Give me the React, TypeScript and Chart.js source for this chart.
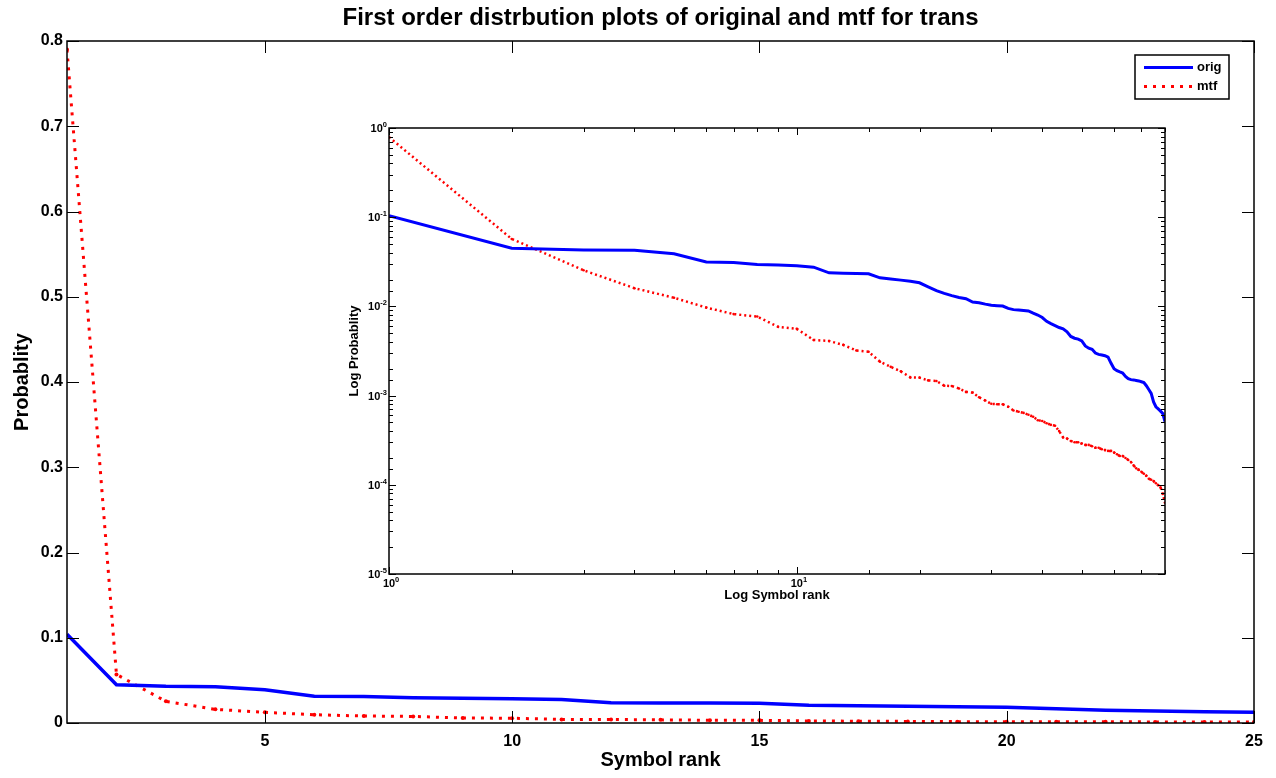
import { useEffect, useRef } from 'react';
import { Chart, registerables } from 'chart.js';

Chart.register(...registerables);

const TITLE = 'First order distrbution plots of original and mtf for trans';
const X_TITLE = 'Symbol rank';
const Y_TITLE = 'Probablity';
const INSET_X_TITLE = 'Log Symbol rank';
const INSET_Y_TITLE = 'Log Probablity';

const symbolRank = [
  1, 2, 3, 4, 5, 6, 7, 8, 9, 10, 11, 12, 13, 14, 15, 16, 17, 18, 19, 20,
  21, 22, 23, 24, 25, 26, 27, 28, 29, 30, 31, 32, 33, 34, 35, 36, 37, 38, 39, 40,
  41, 42, 43, 44, 45, 46, 47, 48, 49, 50, 51, 52, 53, 54, 55, 56, 57, 58, 59, 60,
  61, 62, 63, 64, 65, 66, 67, 68, 69, 70, 71, 72, 73, 74, 75, 76, 77, 78, 79, 80,
];

const origProb = [
  0.104, 0.0448, 0.043, 0.0425, 0.039, 0.0315, 0.031, 0.0295, 0.0291, 0.0285,
  0.0275, 0.0238, 0.0236, 0.0234, 0.0232, 0.0209, 0.0203, 0.0197, 0.0191, 0.0184,
  0.0166, 0.015, 0.014, 0.0132, 0.0126, 0.0122, 0.0112, 0.011, 0.0106, 0.0103,
  0.0102, 0.0101, 0.0095, 0.0092, 0.0091, 0.009, 0.0089, 0.0084, 0.008, 0.0075,
  0.0068, 0.0064, 0.0061, 0.0058, 0.0056, 0.0052, 0.0046, 0.0044, 0.0043, 0.0041,
  0.0036, 0.0034, 0.0033, 0.003, 0.0029, 0.00285, 0.0028, 0.0027, 0.0023, 0.002,
  0.0019, 0.00184, 0.00179, 0.00164, 0.00155, 0.00151, 0.0015, 0.00148, 0.00146, 0.00143,
  0.0014, 0.00129, 0.00117, 0.00106, 0.00085, 0.00075, 0.00071, 0.00067, 0.00063, 0.00051,
];

const mtfProb = [
  0.79, 0.057, 0.0254, 0.016, 0.0125, 0.0097, 0.0082, 0.0077, 0.0059, 0.0056,
  0.0042, 0.0041, 0.0037, 0.0032, 0.0031, 0.0024, 0.0021, 0.00187, 0.0016, 0.00159,
  0.00148, 0.00146, 0.00129, 0.00128, 0.0012, 0.0011, 0.00108, 0.00096, 0.00088, 0.00081,
  0.0008, 0.0008, 0.00075, 0.00068, 0.00066, 0.00064, 0.00061, 0.00058, 0.00053, 0.00052,
  0.00049, 0.00047, 0.00046, 0.0004, 0.00034, 0.00033, 0.00031, 0.0003, 0.0003, 0.00029,
  0.00028, 0.00028, 0.00027, 0.00026, 0.00026, 0.00025, 0.000245, 0.00024, 0.00024, 0.00023,
  0.00022, 0.00021, 0.00021, 0.0002, 0.00019, 0.00018, 0.000165, 0.000153, 0.000147, 0.00014,
  0.000133, 0.000126, 0.000117, 0.000114, 0.00011, 0.000104, 0.000099, 0.000094, 0.000079, 0.000063,
];

const mainXTicks = [5, 10, 15, 20, 25];
const mainYTicks = [0, 0.1, 0.2, 0.3, 0.4, 0.5, 0.6, 0.7, 0.8];
const insetXTickValues = [1, 10];
const insetXTickExponents = ['0', '1'];
const insetYTickValues = [1e-5, 1e-4, 1e-3, 1e-2, 1e-1, 1];
const insetYTickExponents = ['-5', '-4', '-3', '-2', '-1', '0'];
const TICK_BASE = '10';

const FONT = '"Liberation Sans", Arial, Helvetica, sans-serif';
const BLUE = '#0000ff';
const RED = '#ff0000';

const isPow10 = (v: number) => Math.abs(Math.log10(v) - Math.round(Math.log10(v))) < 1e-6;

function framePlugin(major: number, minor: number, isMajor: (v: number) => boolean) {
  return {
    id: 'frameTicks',
    afterDatasetsDraw(chart: any) {
      const { ctx, chartArea: a, scales } = chart;
      const xs = scales.x;
      const ys = scales.y;
      ctx.save();
      ctx.strokeStyle = '#000';
      ctx.lineWidth = 1;
      ctx.setLineDash([]);
      ctx.beginPath();
      for (const t of xs.ticks) {
        const px = Math.round(xs.getPixelForValue(t.value)) + 0.5;
        if (px < a.left - 1 || px > a.right + 1) continue;
        const len = isMajor(t.value) ? major : minor;
        ctx.moveTo(px, a.bottom);
        ctx.lineTo(px, a.bottom - len);
        ctx.moveTo(px, a.top);
        ctx.lineTo(px, a.top + len);
      }
      for (const t of ys.ticks) {
        const py = Math.round(ys.getPixelForValue(t.value)) + 0.5;
        if (py < a.top - 1 || py > a.bottom + 1) continue;
        const len = isMajor(t.value) ? major : minor;
        ctx.moveTo(a.left, py);
        ctx.lineTo(a.left + len, py);
        ctx.moveTo(a.right, py);
        ctx.lineTo(a.right - len, py);
      }
      ctx.stroke();
      ctx.lineWidth = 1.5;
      ctx.strokeRect(a.left, a.top, a.right - a.left, a.bottom - a.top);
      ctx.restore();
    },
  };
}

const powerLabelPlugin = {
  id: 'powerLabels',
  afterDraw(chart: any) {
    const { ctx, chartArea: a, scales } = chart;
    const baseFont = `bold 11px ${FONT}`;
    const expFont = `bold 7.5px ${FONT}`;
    ctx.save();
    ctx.fillStyle = '#000';
    ctx.textBaseline = 'alphabetic';
    // x axis
    insetXTickValues.forEach((v, i) => {
      const px = scales.x.getPixelForValue(v);
      ctx.font = baseFont;
      const bw = ctx.measureText(TICK_BASE).width;
      ctx.textAlign = 'left';
      ctx.fillText(TICK_BASE, px - bw / 2, a.bottom + 13);
      ctx.font = expFont;
      ctx.fillText(insetXTickExponents[i], px + bw / 2, a.bottom + 8);
    });
    // y axis
    insetYTickValues.forEach((v, i) => {
      const py = scales.y.getPixelForValue(v);
      ctx.font = expFont;
      const ew = ctx.measureText(insetYTickExponents[i]).width;
      ctx.textAlign = 'right';
      ctx.fillText(insetYTickExponents[i], a.left - 2, py - 1);
      ctx.font = baseFont;
      ctx.fillText(TICK_BASE, a.left - 2 - ew, py + 4);
    });
    ctx.restore();
  },
};

const legendPlugin = {
  id: 'boxLegend',
  afterDraw(chart: any) {
    const { ctx, chartArea: a } = chart;
    const w = 94;
    const h = 44;
    const x0 = a.right - 25 - w;
    const y0 = a.top + 14;
    ctx.save();
    ctx.fillStyle = '#fff';
    ctx.fillRect(x0, y0, w, h);
    ctx.strokeStyle = '#000';
    ctx.lineWidth = 1.5;
    ctx.setLineDash([]);
    ctx.strokeRect(x0, y0, w, h);
    chart.data.datasets.forEach((ds: any, i: number) => {
      const y = y0 + 12.5 + i * 19;
      ctx.strokeStyle = ds.borderColor;
      ctx.lineWidth = 3;
      ctx.setLineDash(ds.borderDash || []);
      ctx.beginPath();
      ctx.moveTo(x0 + 9, y);
      ctx.lineTo(x0 + 58, y);
      ctx.stroke();
      ctx.setLineDash([]);
      ctx.fillStyle = '#000';
      ctx.font = `bold 13px ${FONT}`;
      ctx.textBaseline = 'middle';
      ctx.textAlign = 'left';
      ctx.fillText(ds.label, x0 + 62, y);
    });
    ctx.restore();
  },
};

export default function App() {
  const mainRef = useRef<HTMLCanvasElement>(null);
  const insetRef = useRef<HTMLCanvasElement>(null);

  useEffect(() => {
    document.body.style.margin = '0';
    Chart.defaults.font.family = FONT;
    Chart.defaults.color = '#000';

    const origPts = symbolRank.map((r, i) => ({ x: r, y: origProb[i] }));
    const mtfPts = symbolRank.map((r, i) => ({ x: r, y: mtfProb[i] }));

    const main = new Chart(mainRef.current as HTMLCanvasElement, {
      type: 'line',
      data: {
        datasets: [
          { label: 'orig', data: origPts, borderColor: BLUE, backgroundColor: BLUE, borderWidth: 3.5, pointRadius: 0, tension: 0 },
          { label: 'mtf', data: mtfPts, borderColor: RED, backgroundColor: RED, borderWidth: 3, borderDash: [3, 6], pointRadius: 2, pointBorderWidth: 0, pointBackgroundColor: RED, tension: 0 },
        ],
      },
      options: {
        responsive: false,
        animation: false,
        layout: { padding: { left: 0, right: 22, top: 0, bottom: 0 } },
        plugins: {
          legend: { display: false },
          tooltip: { enabled: false },
          title: {
            display: true,
            text: TITLE,
            fullSize: false,
            color: '#000',
            font: { size: 24, weight: 'bold' },
            padding: { top: 4, bottom: 8.2 },
          },
        },
        scales: {
          x: {
            type: 'linear',
            min: 1,
            max: 25,
            afterBuildTicks: (s: any) => { s.ticks = mainXTicks.map((v) => ({ value: v })); },
            afterFit: (s: any) => { s.height = 55; },
            grid: { display: false, drawTicks: false },
            border: { display: false },
            ticks: { color: '#000', font: { size: 16, weight: 'bold' }, padding: 9, maxRotation: 0, autoSkip: false },
            title: { display: true, text: X_TITLE, color: '#000', font: { size: 20, weight: 'bold' }, padding: { top: 0, bottom: 6 } },
          },
          y: {
            type: 'linear',
            min: 0,
            max: 0.8,
            afterBuildTicks: (s: any) => { s.ticks = mainYTicks.map((v) => ({ value: v })); },
            afterFit: (s: any) => { s.width = 67; },
            grid: { display: false, drawTicks: false },
            border: { display: false },
            ticks: { color: '#000', font: { size: 16, weight: 'bold' }, padding: 4, autoSkip: false },
            title: { display: true, text: Y_TITLE, color: '#000', font: { size: 20, weight: 'bold' }, padding: { top: 10, bottom: 0 } },
          },
        },
      } as any,
      plugins: [framePlugin(12, 12, () => true), legendPlugin],
    });

    const inset = new Chart(insetRef.current as HTMLCanvasElement, {
      type: 'line',
      data: {
        datasets: [
          { label: 'orig', data: origPts, borderColor: BLUE, backgroundColor: BLUE, borderWidth: 3, pointRadius: 0, tension: 0 },
          { label: 'mtf', data: mtfPts, borderColor: RED, backgroundColor: RED, borderWidth: 2.5, borderDash: [2, 3], pointRadius: 1.3, pointBorderWidth: 0, pointBackgroundColor: RED, tension: 0 },
        ],
      },
      options: {
        responsive: false,
        animation: false,
        layout: { padding: { left: 0, right: 15, top: 16, bottom: 0 } },
        plugins: { legend: { display: false }, tooltip: { enabled: false }, title: { display: false } },
        scales: {
          x: {
            type: 'logarithmic',
            min: 1,
            max: 80,
            afterFit: (s: any) => { s.height = 33; },
            grid: { display: false, drawTicks: false },
            border: { display: false },
            ticks: { display: true, callback: () => '', autoSkip: false, maxRotation: 0, minRotation: 0, font: { size: 10 }, padding: 0 },
            title: { display: true, text: INSET_X_TITLE, color: '#000', font: { size: 13, weight: 'bold' }, padding: { top: 0, bottom: 4 } },
          },
          y: {
            type: 'logarithmic',
            min: 1e-5,
            max: 1,
            afterFit: (s: any) => { s.width = 49; },
            grid: { display: false, drawTicks: false },
            border: { display: false },
            ticks: { display: true, callback: () => '', autoSkip: false, font: { size: 10 }, padding: 0 },
            title: { display: true, text: INSET_Y_TITLE, color: '#000', font: { size: 13, weight: 'bold' }, padding: { top: 7, bottom: 0 } },
          },
        },
      } as any,
      plugins: [framePlugin(7, 4, isPow10), powerLabelPlugin],
    });

    return () => {
      main.destroy();
      inset.destroy();
    };
  }, []);

  return (
    <div style={{ position: 'relative', width: 1276, height: 778, background: '#fff' }}>
      <canvas ref={mainRef} width={1276} height={778} style={{ position: 'absolute', left: 0, top: 0 }} />
      <canvas ref={insetRef} width={840} height={495} style={{ position: 'absolute', left: 340, top: 112 }} />
    </div>
  );
}
